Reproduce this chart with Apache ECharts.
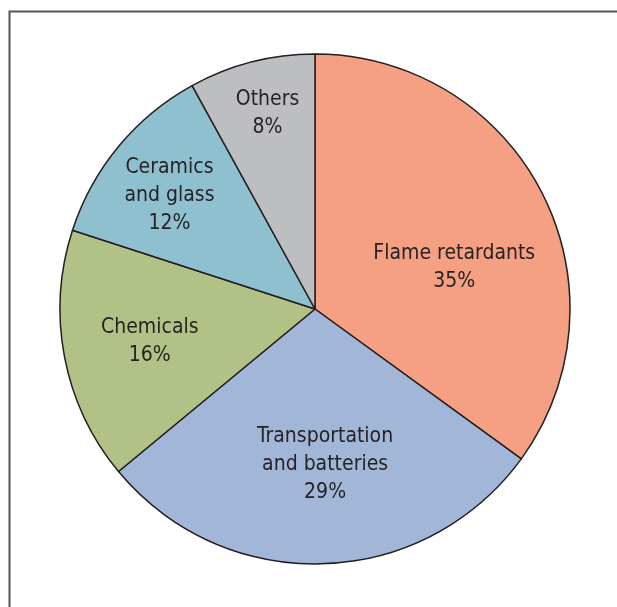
<!DOCTYPE html>
<html lang="en">
  <head>
    <meta charset="UTF-8" />
    <title>Uses</title>
    <script src="https://cdn.jsdelivr.net/npm/echarts@6/dist/echarts.min.js"></script>
    <style>
      html, body { margin: 0; padding: 0; background: #fff; }
      #main { width: 617px; height: 607px; }
    </style>
  </head>
  <body>
    <div id="main"></div>
    <script>
      const categories = [
        'Flame retardants',
        'Transportation\nand batteries',
        'Chemicals',
        'Ceramics\nand glass',
        'Others'
      ]
      const shares = [35, 29, 16, 12, 8]
      const colors = ['#F5A083', '#A2B6D8', '#B2C286', '#8EC0D0', '#BDBEC2']
      // nudges from the default inside label spot
      const labelOffsets = [[23, 18], [6, 25], [-37, 8], [-45, -30], [-15, -69]]

      const myChart = echarts.init(document.getElementById('main'))
      const option = {
        animation: false,
        graphic: [
          {
            type: 'rect',
            shape: { x: 9.5, y: 11.5, width: 800, height: 800 },
            style: { fill: 'none', stroke: '#555', lineWidth: 2 },
            silent: true
          }
        ],
        series: [
          {
            type: 'pie',
            center: [315, 309],
            radius: [0, 255],
            startAngle: 90,
            clockwise: true,
            avoidLabelOverlap: false,
            emphasis: { disabled: true },
            itemStyle: { borderColor: '#231F20', borderWidth: 1.5 },
            label: {
              show: true,
              position: 'inside',
              formatter: '{b}\n{c}%',
              fontFamily: '"Liberation Sans Narrow", "DejaVu Sans Condensed", sans-serif',
              fontSize: 21,
              lineHeight: 28,
              color: '#262324'
            },
            labelLine: { show: false },
            data: categories.map((name, i) => ({
              name,
              value: shares[i],
              itemStyle: { color: colors[i] },
              label: { offset: labelOffsets[i] }
            }))
          }
        ]
      }
      myChart.setOption(option)
    </script>
  </body>
</html>
